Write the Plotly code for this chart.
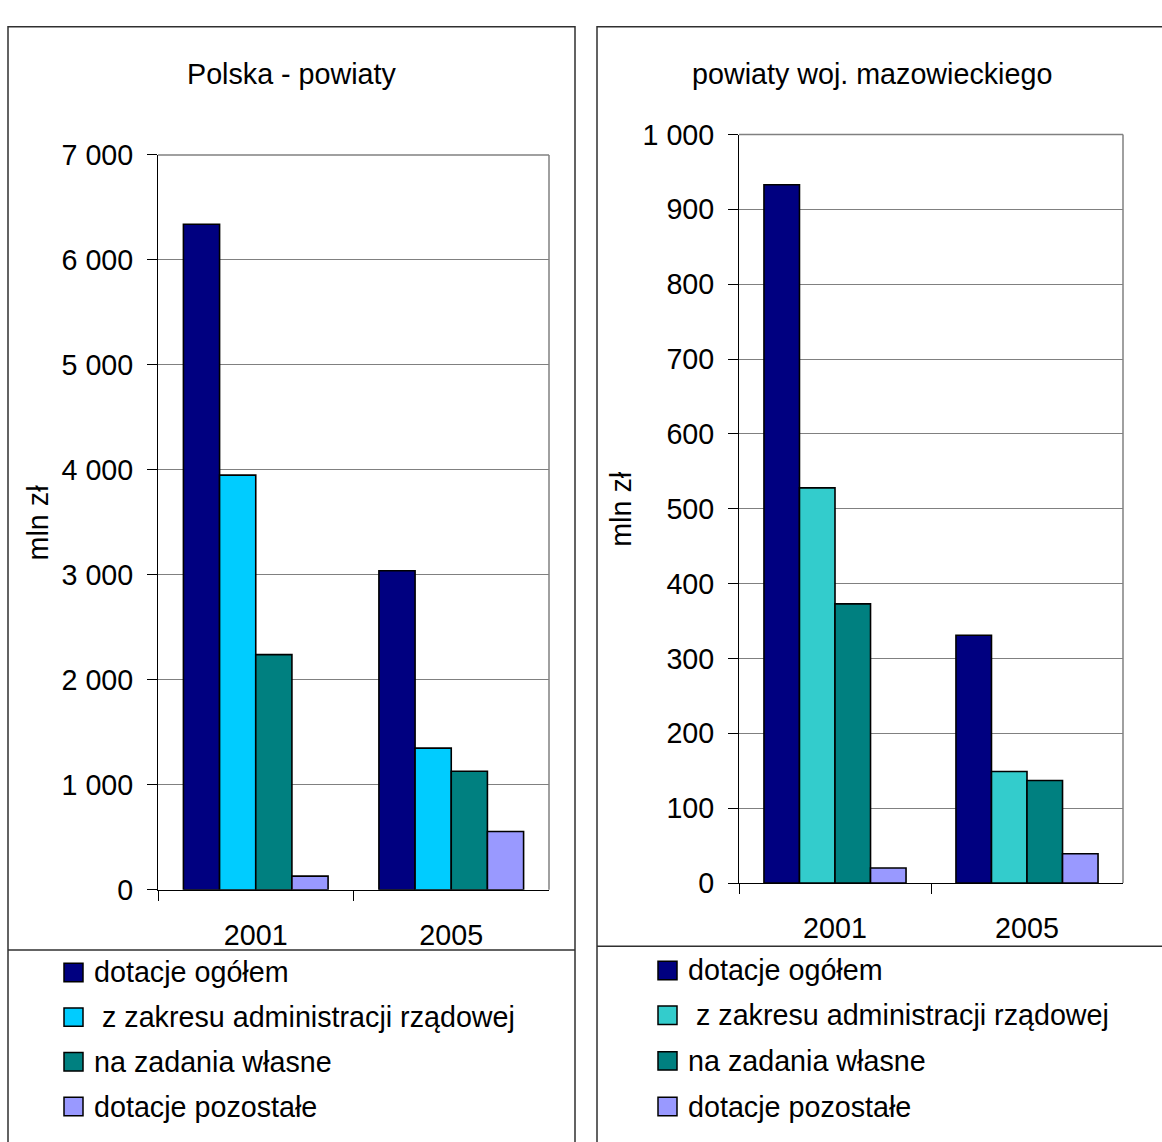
import plotly.graph_objects as go

W, H = 1162, 1142

years = ["2001", "2005"]
series_names = [
    "dotacje ogółem",
    " z zakresu administracji rządowej",
    "na zadania własne",
    "dotacje pozostałe",
]

# Polska - powiaty (mln zł)
pl_ogolem = [6340, 3040]
pl_admin = [3950, 1350]
pl_wlasne = [2240, 1130]
pl_pozostale = [130, 555]

# powiaty woj. mazowieckiego (mln zł)
maz_ogolem = [933, 331]
maz_admin = [528, 149]
maz_wlasne = [373, 137]
maz_pozostale = [20, 39]

left_colors = ["#000080", "#00CCFF", "#008080", "#9999FF"]
right_colors = ["#000080", "#33CCCC", "#008080", "#9999FF"]

FONT = "Liberation Sans, Arial, sans-serif"
FS = 28.7


def px(x):
    return x / W


def py(y):
    return 1 - y / H


fig = go.Figure()

left_data = [pl_ogolem, pl_admin, pl_wlasne, pl_pozostale]
right_data = [maz_ogolem, maz_admin, maz_wlasne, maz_pozostale]

for name, vals, col in zip(series_names, left_data, left_colors):
    fig.add_trace(go.Bar(x=years, y=vals, name=name, marker_color=col,
                         marker_line_color="black", marker_line_width=1.6,
                         xaxis="x", yaxis="y", showlegend=False))
for name, vals, col in zip(series_names, right_data, right_colors):
    fig.add_trace(go.Bar(x=years, y=vals, name=name, marker_color=col,
                         marker_line_color="black", marker_line_width=1.6,
                         xaxis="x2", yaxis="y2", showlegend=False))

# plot-area rectangles (pixels): x0, x1, y_top, y_bottom
L = dict(x0=158, x1=549, yt=143, yb=899)
R = dict(x0=739, x1=1123, yt=122, yb=892)

xcommon = dict(type="category", showline=True, linecolor="black", linewidth=1,
               ticks="outside", ticklen=10, tickcolor="black", tickson="boundaries",
               showgrid=False, ticklabelstandoff=20,
               tickfont=dict(family=FONT, size=FS, color="black"))
ycommon = dict(showline=True, linecolor="black", linewidth=1, ticks="outside",
               ticklen=10, tickcolor="black", showgrid=True, gridcolor="#808080",
               gridwidth=1, tickformat=",d", ticklabelstandoff=8, zeroline=False,
               tickfont=dict(family=FONT, size=FS, color="black"))

fig.update_layout(
    width=W, height=H, margin=dict(l=0, r=0, t=0, b=0),
    paper_bgcolor="white", plot_bgcolor="white",
    barmode="group", bargap=0.26, bargroupgap=0,
    separators=", ",
    font=dict(family=FONT, size=FS, color="black"),
    xaxis=dict(domain=[px(L["x0"]), px(L["x1"])], anchor="y", **xcommon),
    yaxis=dict(domain=[py(L["yb"]), py(L["yt"])], anchor="x", range=[0, 7000],
               dtick=1000, **ycommon),
    xaxis2=dict(domain=[px(R["x0"]), px(R["x1"])], anchor="y2", **xcommon),
    yaxis2=dict(domain=[py(R["yb"]), py(R["yt"])], anchor="x2", range=[0, 1000],
                dtick=100, **ycommon),
)

shapes = []
# grey frame on top/right of each plot area
for a in (L, R):
    shapes.append(dict(type="line", xref="paper", yref="paper",
                       x0=px(a["x0"]), x1=px(a["x1"]), y0=py(a["yt"]), y1=py(a["yt"]),
                       line=dict(color="#808080", width=1.5)))
    shapes.append(dict(type="line", xref="paper", yref="paper",
                       x0=px(a["x1"]), x1=px(a["x1"]), y0=py(a["yt"]), y1=py(a["yb"]),
                       line=dict(color="#808080", width=1.5)))

# outer chart panels and legend separators
panels = [dict(x0=8, x1=575, sep=961), dict(x0=597, x1=1180, sep=957)]
for p in panels:
    shapes.append(dict(type="rect", xref="paper", yref="paper",
                       x0=px(p["x0"]), x1=px(p["x1"]), y0=py(1170), y1=py(11),
                       line=dict(color="#303030", width=1.5), fillcolor="rgba(0,0,0,0)"))
    shapes.append(dict(type="line", xref="paper", yref="paper",
                       x0=px(p["x0"]), x1=px(p["x1"]), y0=py(p["sep"]), y1=py(p["sep"]),
                       line=dict(color="#303030", width=1.5)))

annotations = []
# chart titles
annotations.append(dict(text="Polska - powiaty", x=px(292), y=py(60), xref="paper",
                        yref="paper", showarrow=False, xanchor="center", yanchor="middle",
                        font=dict(family=FONT, size=FS, color="black")))
annotations.append(dict(text="powiaty woj. mazowieckiego", x=px(872), y=py(60),
                        xref="paper", yref="paper", showarrow=False, xanchor="center",
                        yanchor="middle", font=dict(family=FONT, size=FS, color="black")))
# y-axis titles
for xx, yy in ((38, 521), (621, 507)):
    annotations.append(dict(text="mln zł", x=px(xx), y=py(yy), xref="paper", yref="paper",
                            showarrow=False, textangle=-90, xanchor="center",
                            yanchor="middle", font=dict(family=FONT, size=FS, color="black")))

# legends: square swatch + label per series
legend_specs = [
    dict(sq_x=64, txt_x=92, rows=[984, 1030, 1076, 1122], colors=left_colors),
    dict(sq_x=658, txt_x=686, rows=[982, 1028, 1075, 1122], colors=right_colors),
]
SQ = 19
for spec in legend_specs:
    for name, col, ry in zip(series_names, spec["colors"], spec["rows"]):
        shapes.append(dict(type="rect", xref="paper", yref="paper",
                           x0=px(spec["sq_x"]), x1=px(spec["sq_x"] + SQ),
                           y0=py(ry + SQ / 2), y1=py(ry - SQ / 2),
                           fillcolor=col, line=dict(color="black", width=1.5)))
        label = name.replace(" ", "\u00a0", 1) if name.startswith(" ") else name
        annotations.append(dict(text=label, x=px(spec["txt_x"]), y=py(ry), xref="paper",
                                yref="paper", showarrow=False, xanchor="left",
                                yanchor="middle",
                                font=dict(family=FONT, size=FS, color="black")))

fig.update_layout(shapes=shapes, annotations=annotations)

fig.write_html("out.html")
